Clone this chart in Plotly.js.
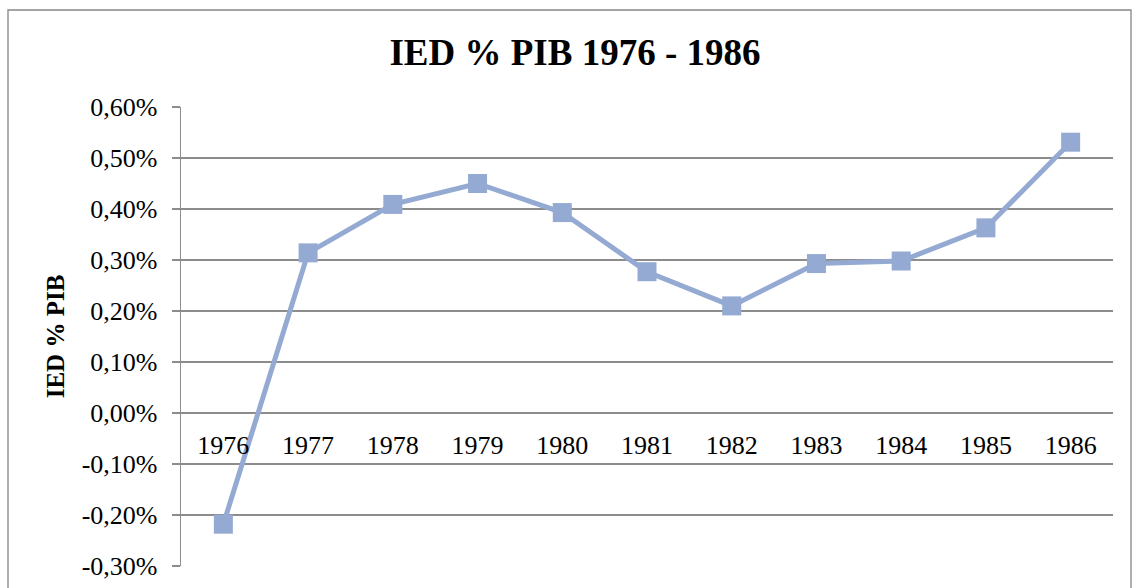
<!DOCTYPE html>
<html>
<head>
<meta charset="utf-8">
<script src="https://cdn.plot.ly/plotly-3.0.1.min.js"></script>
<style>html,body{margin:0;padding:0;background:#fff;} #chart{width:1133px;height:588px;}</style>
</head>
<body>
<div id="chart"></div>
<script>
const years = ['1976','1977','1978','1979','1980','1981','1982','1983','1984','1985','1986'];
const iedPib = [-0.00218, 0.00314, 0.00409, 0.00450, 0.00393, 0.00277, 0.00210, 0.00293, 0.00298, 0.00363, 0.00531];
const yTickVals = [-0.003, -0.002, -0.001, 0, 0.001, 0.002, 0.003, 0.004, 0.005, 0.006];
const yTickText = ['-0,30%', '-0,20%', '-0,10%', '0,00%', '0,10%', '0,20%', '0,30%', '0,40%', '0,50%', '0,60%'];
const titleText = 'IED % PIB 1976 - 1986';
const yTitleText = 'IED % PIB';

const font = 'Liberation Serif, Times New Roman, serif';
const trace = {
  type: 'scatter', mode: 'lines+markers',
  x: years, y: iedPib,
  line: {color: '#94aad2', width: 5},
  marker: {symbol: 'square', size: 19, color: '#94aad2', line: {width: 0}},
  cliponaxis: false, hoverinfo: 'skip'
};
const layout = {
  width: 1133, height: 588,
  margin: {l: 181, r: 20, t: 107, b: 22},
  paper_bgcolor: '#fff', plot_bgcolor: '#fff',
  showlegend: false,
  font: {family: font, color: '#000'},
  title: {text: '<b>' + titleText + '</b>', font: {family: font, size: 37, color: '#000'},
          x: 0.5075, xref: 'container', xanchor: 'center', y: 1 - 52/588, yref: 'container', yanchor: 'middle'},
  xaxis: {
    type: 'category', range: [-0.5, 10.5],
    anchor: 'free', position: 3/9,
    showgrid: false, zeroline: false, showline: false,
    ticks: '', tickfont: {family: font, size: 26, color: '#000'},
    ticklabelstandoff: 14
  },
  yaxis: {
    range: [-0.003, 0.006], tickvals: yTickVals, ticktext: yTickText,
    showgrid: true, gridcolor: '#8c8c8c', gridwidth: 1.3,
    zeroline: false, showline: true, linecolor: '#8c8c8c', linewidth: 1.3,
    ticks: 'outside', ticklen: 8, tickcolor: '#8c8c8c', tickwidth: 1.3,
    tickfont: {family: font, size: 26, color: '#000'},
    ticklabelstandoff: 9,
    title: {text: '<b>' + yTitleText + '</b>', font: {family: font, size: 25, color: '#000'}, standoff: 10}
  },
  shapes: [{
    type: 'rect', xref: 'paper', yref: 'paper',
    x0: (8 - 181) / 932, x1: (1131 - 181) / 932,
    y0: (566 - 620) / 459, y1: (566 - 10) / 459,
    line: {color: '#868686', width: 1.3}, fillcolor: 'rgba(0,0,0,0)', layer: 'below'
  }]
};
Plotly.newPlot('chart', [trace], layout, {staticPlot: true, displayModeBar: false});
</script>
</body>
</html>
